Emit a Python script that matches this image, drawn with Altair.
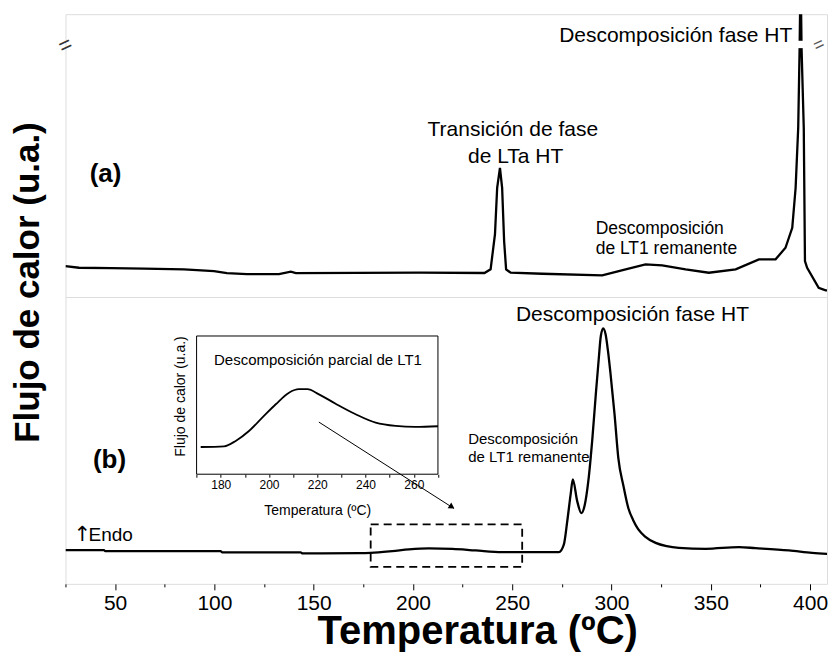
import altair as alt
import pandas as pd

# ---------------- data ----------------
# curve (a): temperature (ºC) and heat flow (a.u., 0-100 panel units)
temp_a = [25, 31.8, 47.9, 64.5, 84.7, 99.8, 106.3, 116.4, 132.5, 138.5, 141.0,
          203.3, 236.0, 239.1, 241.3, 242.4, 243.8, 244.9, 245.9, 246.9, 249.2,
          265.1, 295.3, 307.1, 317.1, 325.5, 337.3, 349.0, 362.5, 374.2, 382.6,
          387.6, 391.0, 392.7, 394.0, 394.7, 395.2, 395.7, 396.8, 397.4,
          398.5, 404.3, 407.8, 413.0]
flow_a = [10.95, 10.35, 10.25, 10.07, 9.79, 9.19, 8.48, 8.13, 8.13, 8.94, 8.48,
          8.59, 8.5, 9.79, 22.26, 38.62, 45.69, 38.62, 19.79, 9.79, 8.59,
          8.23, 7.67, 9.79, 11.55, 11.20, 9.79, 8.59, 9.79, 13.32, 13.32,
          17.42, 24.49, 38.62, 59.82, 87.63, 115, 87.63, 59.82, 12.72,
          10.35, 3.29, 2.37, 2.37]

# curve (b)
temp_b = [25, 44.4, 45.0, 103.1, 104.0, 143.4, 144.5, 172.8, 178.7, 189.6,
          198.0, 208.0, 219.8, 231.5, 244.9, 273.5, 276.0, 277.7, 279.4, 280.5,
          282.7, 284.8, 286.5, 288.3, 290.3, 292.1, 293.6, 294.6, 295.8, 297.0,
          298.2, 299.5, 301.5, 303.4, 306.0, 308.4, 310.9, 313.4, 316.9, 322.2,
          327.8, 333.9, 347.4, 364.1, 372.5, 389.3, 401.0, 412.9]
flow_b = [11.75, 11.75, 11.41, 11.41, 10.95, 10.95, 10.6, 10.7, 10.81, 11.41,
          12.00, 12.35, 12.21, 11.65, 11.06, 11.06, 13.74, 21.87, 31.18, 36.41,
          28.85, 24.66, 27.5, 35.8, 50.3, 66.3, 78.83, 86.4, 89.08, 86.99,
          81.2, 73.14, 59.2, 43.95, 34.1, 26.51, 22.2, 19.08, 16.5, 14.30,
          13.15, 12.56, 12.21, 12.80, 12.45, 11.65, 10.81, 10.25]

# inset: partial decomposition of LT1
temp_in = [171.7, 181.4, 186.2, 191.7, 197.2, 202.8, 208.3, 212.4, 215.9,
           220.7, 227.6, 235.9, 244.2, 252.5, 260.7, 270.0]
flow_in = [19.7, 20.2, 24.1, 31.3, 40.9, 50.6, 59.0, 61.5, 61.5,
           57.8, 51.0, 43.4, 37.3, 34.9, 34.2, 34.7]

main_ticks = list(range(25, 409, 25))
inset_ticks = list(range(170, 271, 10))

assert len(temp_a) == len(flow_a) and len(temp_b) == len(flow_b) and len(temp_in) == len(flow_in)

df_a = pd.DataFrame({"T": temp_a, "F": flow_a})
df_b = pd.DataFrame({"T": temp_b, "F": flow_b})
df_in = pd.DataFrame({"T": temp_in, "F": flow_in})

FONT = "Liberation Sans"
W = 762
H_TOP = 283
H_BOT = 287

xs = alt.Scale(domain=[25, 408.5], nice=False, zero=False)
ys = alt.Scale(domain=[0, 100], nice=False, zero=False)


def label(text, x, y, size, align="left", weight="normal", baseline="alphabetic", font=FONT):
    return alt.Chart().mark_text(text=text, fontSize=size, align=align, baseline=baseline,
                                 fontWeight=weight, font=font, color="black").encode(
        x=alt.datum(x), y=alt.datum(y))


# ---------------- top panel (a) ----------------
line_a = alt.Chart(df_a).mark_line(color="black", strokeWidth=2.3, clip=True).encode(
    x=alt.X("T:Q", scale=xs, axis=None),
    y=alt.Y("F:Q", scale=ys, axis=alt.Axis(
        title="Flujo de calor (u.a.)", labels=False, ticks=False, domain=False, grid=False,
        titleFontSize=35, titleFontWeight="bold", titleFont=FONT, titleColor="black",
        titleX=-26.5, titleY=268, titleAngle=270, titleBaseline="alphabetic",
        titleAlign="center")),
)
gap_a = alt.Chart().mark_rect(color="white").encode(
    x=alt.datum(393.6), x2=alt.datum(397.0), y=alt.datum(88.0), y2=alt.datum(90.6))
brk_l = alt.Chart().mark_text(text="=", angle=335, fontSize=22, font=FONT, color="#333").encode(
    x=alt.datum(25), y=alt.datum(89.0))
brk_r = alt.Chart().mark_text(text="=", angle=335, fontSize=18, font=FONT, color="#555").encode(
    x=alt.datum(404.5), y=alt.datum(89.0))

top = alt.layer(
    line_a, gap_a, brk_l, brk_r,
    label("Descomposición fase HT", 391.0, 90.1, 21, align="right"),
    label("Transición de fase", 250.3, 56.9, 21, align="center"),
    label("de LTa HT", 251.7, 47.5, 21, align="center"),
    label("Descomposición", 292.0, 22.2, 17.5),
    label("de LT1 remanente", 292.0, 15.1, 17.5),
    label("(a)", 45.2, 43.6, 26, align="center", weight="bold", baseline="middle"),
).properties(width=W, height=H_TOP)

# ---------------- bottom panel (b) ----------------
line_b = alt.Chart(df_b).mark_line(color="black", strokeWidth=2.3, clip=True,
                                    interpolate="monotone").encode(
    x=alt.X("T:Q", scale=xs, axis=alt.Axis(
        values=main_ticks, labelExpr="datum.value % 50 == 0 ? datum.label : ''",
        tickSize={"condition": {"test": "datum.value % 50 === 0", "value": 6}, "value": 3},
        tickColor="black", tickWidth=1, domain=False, grid=False,
        labelFontSize=21, labelFont=FONT, labelColor="black",
        labelBaseline="alphabetic", labelPadding=20,
        labelOverlap=False, labelFlush=False,
        title="Temperatura (ºC)", titleFontSize=40, titleFontWeight="bold",
        titleFont=FONT, titleColor="black", titleX=412, titleY=59.5,
        titleBaseline="alphabetic", titleAlign="center")),
    y=alt.Y("F:Q", scale=ys, axis=None),
)
box_b = alt.Chart().mark_rect(fillOpacity=0, stroke="black", strokeDash=[8, 5],
                              strokeWidth=1.8).encode(
    x=alt.datum(178.7), x2=alt.datum(255.0), y=alt.datum(5.93), y2=alt.datum(20.7))
arrow = alt.Chart().mark_rule(color="black", strokeWidth=1).encode(
    x=alt.datum(152.6), y=alt.datum(56.4), x2=alt.datum(220.6), y2=alt.datum(26.3))
head = alt.Chart().mark_point(shape="triangle-right", filled=True, size=45, angle=32.6,
                              color="black", opacity=1).encode(
    x=alt.datum(219.6), y=alt.datum(26.8))

main_b = alt.layer(
    line_b, box_b, arrow, head,
    label("Descomposición fase HT", 369.2, 91.6, 21, align="right"),
    label("Descomposición", 227.8, 48.8, 15),
    label("de LT1 remanente", 227.8, 42.4, 15),
    label("(b)", 47.2, 43.1, 26, align="center", weight="bold", baseline="middle"),
    label("↑", 29.0, 15.1, 21, font="DejaVu Sans"),
    label("Endo", 36.6, 15.1, 19),
)

# inset, drawn with its own scales inside the bottom panel
xs_in = alt.Scale(domain=[170, 270], range=[131.2, 372.7], nice=False, zero=False)
ys_in = alt.Scale(domain=[0, 100], range=[177.3, 39], nice=False, zero=False)

line_in = alt.Chart(df_in).mark_line(color="black", strokeWidth=1.8,
                                      interpolate="monotone").encode(
    x=alt.X("T:Q", scale=xs_in, axis=alt.Axis(
        orient="bottom", offset=-(H_BOT - 177.3), values=inset_ticks,
        labelExpr="datum.value % 20 == 0 ? datum.label : ''",
        tickSize=3, tickColor="black", domain=False, grid=False,
        labelFontSize=12, labelFont=FONT, labelColor="black", labelPadding=2,
        labelOverlap=False, labelFlush=False,
        title="Temperatura (ºC)", titleFontSize=14, titleFontWeight="normal",
        titleFont=FONT, titleColor="black", titleY=40, titleBaseline="alphabetic")),
    y=alt.Y("F:Q", scale=ys_in, axis=alt.Axis(
        orient="left", offset=-131.2, labels=False, ticks=False, domain=False, grid=False,
        title="Flujo de calor (u.a.)", titleFontSize=14, titleFontWeight="normal",
        titleFont=FONT, titleColor="black", titleX=-11.7, titleY=99, titleAngle=270,
        titleBaseline="alphabetic", titleAlign="center")),
)
frame_in = alt.Chart().mark_rect(fillOpacity=0, stroke="black", strokeWidth=1).encode(
    x=alt.datum(170), x2=alt.datum(270), y=alt.datum(0), y2=alt.datum(100))
title_in = alt.Chart().mark_text(text="Descomposición parcial de LT1", fontSize=15,
                                 font=FONT, color="black", baseline="middle").encode(
    x=alt.datum(220.3), y=alt.datum(82.4))

inset = alt.layer(frame_in, line_in, title_in)

bottom = alt.layer(main_b, inset).resolve_scale(x="independent", y="independent") \
    .properties(width=W, height=H_BOT)

chart = alt.vconcat(top, bottom, spacing=0, bounds="flush").properties(
    padding={"left": 1.5, "top": 5, "right": 0, "bottom": 0}
).configure_view(stroke="#333", strokeWidth=1).configure(font=FONT)

chart.save("out.html", embed_options={"renderer": "svg", "actions": False})
